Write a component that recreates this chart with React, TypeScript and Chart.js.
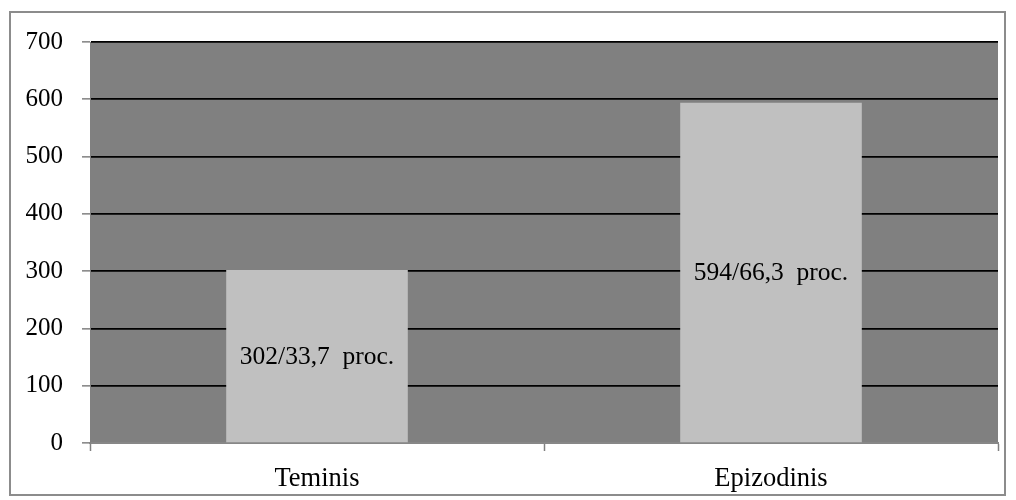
import React, { useEffect, useRef } from "react";
import { Chart, registerables } from "chart.js";

Chart.register(...registerables);

const categories = ["Teminis", "Epizodinis"];
const counts = [302, 594];
const barLabels = ["302/33,7  proc.", "594/66,3  proc."];
const yMin = 0;
const yMax = 700;
const yStep = 100;

const FONT = "'Liberation Serif', 'Times New Roman', serif";

const bgPlugin = {
  id: "bgPlugin",
  beforeDraw(chart: any) {
    const { ctx, chartArea } = chart;
    ctx.save();
    ctx.fillStyle = "#ffffff";
    ctx.fillRect(0, 0, chart.width, chart.height);
    ctx.strokeStyle = "#8c8c8c";
    ctx.lineWidth = 2;
    ctx.strokeRect(10, 12, 995, 483);
    ctx.fillStyle = "#808080";
    ctx.fillRect(chartArea.left, chartArea.top, chartArea.right - chartArea.left, chartArea.bottom - chartArea.top);
    ctx.restore();
  },
};

const labelPlugin = {
  id: "labelPlugin",
  afterDatasetsDraw(chart: any) {
    const { ctx } = chart;
    const meta = chart.getDatasetMeta(0);
    ctx.save();
    ctx.fillStyle = "#000000";
    ctx.font = `25.5px ${FONT}`;
    ctx.textAlign = "center";
    ctx.textBaseline = "middle";
    meta.data.forEach((bar: any, i: number) => {
      const y = (bar.y + bar.base) / 2 + 1;
      ctx.fillText(barLabels[i], bar.x, y);
    });
    ctx.restore();
  },
};

export default function App() {
  const ref = useRef<HTMLCanvasElement>(null);
  useEffect(() => {
    document.body.style.margin = "0";
    const chart = new Chart(ref.current!, {
      type: "bar",
      data: {
        labels: categories,
        datasets: [
          {
            data: counts,
            backgroundColor: "#c0c0c0",
            borderWidth: 0,
            barPercentage: 0.4,
            categoryPercentage: 1,
          },
        ],
      },
      options: {
        responsive: false,
        animation: false,
        maintainAspectRatio: false,
        layout: { padding: { left: 0, top: 42, right: 18, bottom: 0 } },
        plugins: {
          legend: { display: false },
          tooltip: { enabled: false },
        },
        scales: {
          x: {
            offset: true,
            afterFit(scale: any) {
              scale.height = 57;
            },
            grid: {
              offset: true,
              drawOnChartArea: false,
              drawTicks: true,
              tickLength: 8,
              tickColor: "#808080",
              tickWidth: 1.5,
            },
            border: { display: true, color: "#878787", width: 2 },
            ticks: {
              color: "#000000",
              padding: 12,
              font: { family: FONT, size: 26.5 },
            },
          },
          y: {
            min: yMin,
            max: yMax,
            afterFit(scale: any) {
              scale.width = 90;
            },
            grid: {
              color: "#000000",
              lineWidth: 1.7,
              drawTicks: true,
              tickLength: 8,
              tickColor: "#808080",
              tickWidth: 1.5,
            },
            border: { display: true, color: "#808080", width: 1 },
            ticks: {
              stepSize: yStep,
              color: "#000000",
              padding: 19,
              font: { family: FONT, size: 25 },
            },
          },
        },
      },
      plugins: [bgPlugin, labelPlugin],
    });
    return () => chart.destroy();
  }, []);
  return <canvas ref={ref} width={1016} height={500} style={{ display: "block" }} />;
}
